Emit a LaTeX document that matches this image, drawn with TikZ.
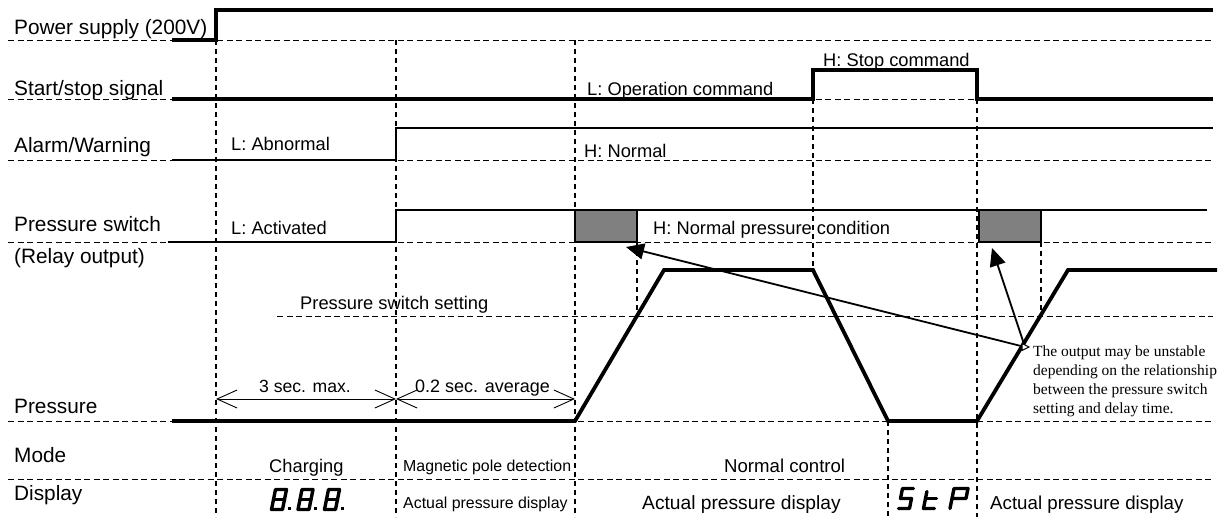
\documentclass[tikz,border=0pt]{standalone}
\usepackage{fontspec}
\setmainfont{Liberation Sans}
\newfontfamily\tnrfont{Liberation Serif}
\usetikzlibrary{arrows.meta,calc}
\newcommand\fsz[1]{\fontsize{#1}{#1}\selectfont}
\definecolor{boxgray}{RGB}{128,128,128}
\begin{document}
\begin{tikzpicture}[x=1pt,y=-1pt,
  lbl/.style={anchor=base west,inner sep=0,font=\fsz{20.8}},
  stl/.style={anchor=base west,inner sep=0,font=\fsz{18.3}},
  sml/.style={anchor=base west,inner sep=0,font=\fsz{15.9}},
  hd/.style={line width=1pt,dash pattern=on 6pt off 3.5pt},
  vd/.style={line width=2.2pt,dash pattern=on 5pt off 4pt},
  sig/.style={line width=3.8pt},
  sigm/.style={line width=2.4pt},
  prs/.style={line width=3.8pt,line join=miter},
  seg/.style={line width=3.4pt,line join=round,line cap=round},
  dim/.style={line width=0.9pt,{Straight Barb[length=20pt,width=18pt]}-{Straight Barb[length=20pt,width=18pt]}},
  ann/.style={line width=1.8pt,-{Triangle[length=18pt,width=16pt]}},
  grey/.style={draw=black,line width=1.2pt,fill=boxgray}
]
\useasboundingbox (0,0) rectangle (1232,517);

% horizontal dashed baselines
\foreach \yy in {40,99,160,242,421,479} \draw[hd] (8,\yy) -- (1213,\yy);
\draw[hd] (277,316) -- (1213,316);

% vertical dashed lines
\draw[vd] (216,40) -- (216,517);
\draw[vd] (396,40) -- (396,517);
\draw[vd] (575,40) -- (575,517);
\draw[vd] (813,99) -- (813,270);
\draw[vd] (977,99) -- (977,517);
\draw[vd] (888,421) -- (888,517);
\draw[vd] (637,242) -- (637,316);
\draw[vd] (1041,242) -- (1041,316);

% signals
\draw[sig] (172,40) -- (216,40) -- (216,10) -- (1213,10);
\draw[sig] (172,99) -- (813,99) -- (813,70) -- (977,70) -- (977,99) -- (1213,99);
\draw[sigm] (172,160) -- (396,160) -- (396,128) -- (1213,128);
\draw[sigm] (168,242) -- (396,242) -- (396,210) -- (1207,210);
\draw[grey] (575,210) rectangle (637,242);
\draw[grey] (979,210) rectangle (1041,242);
\draw[prs] (172,421) -- (575,421) -- (664,270) -- (813,270) -- (888,421) -- (977,421) -- (1068,270) -- (1217,270);

% dimension arrows
\coordinate (d1) at (216,399);
\coordinate (d2) at (396,399);
\coordinate (d3) at (575,399);
\draw[dim] (d1) -- (d2);
\draw[dim] (d2) -- (d3);

% annotation arrows
\coordinate (src) at (1025,347);
\coordinate (tipA) at (626,247);
\coordinate (tipB) at (992,248);
\draw[ann] (src) -- (tipA);
\draw[ann] (src) -- (tipB);
\draw[line width=1pt,fill=white] (1022,343.5) -- (1029,347) -- (1022,350.5) -- cycle;

% left labels
\node[lbl] (lpow) at (14,34) {Power supply (200V)};
\node[lbl] (lss) at (14,95) {Start/stop signal};
\node[lbl] (lal) at (14,152) {Alarm/Warning};
\node[lbl] (lps) at (14,231) {Pressure switch};
\node[lbl] (lro) at (14,263) {(Relay output)};
\node[lbl] (lpr) at (14,413) {Pressure};
\node[lbl] (lmo) at (14,462) {Mode};
\node[lbl] (ldi) at (14,500) {Display};

% state labels
\node[stl] (sab) at (231,150) {L: Abnormal};
\node[stl] (sac) at (231,234) {L: Activated};
\node[stl] (shn) at (584,157) {H: Normal};
\node[stl] (sop) at (587,95) {L: Operation command};
\node[stl] (sst) at (823,66) {H: Stop command};
\node[stl] (snp) at (653,234) {H: Normal pressure condition};
\node[stl] (sps) at (300,309) {Pressure switch setting};
\node[stl,font=\fsz{17.6}] (t3) at (259,392) {3 sec. max.};
\node[stl,font=\fsz{18}] (t02) at (415,392) {0.2 sec. average};

% mode / display
\node[stl] (mch) at (269,472) {Charging};
\node[sml] (mmp) at (403,471) {Magnetic pole detection};
\node[stl,font=\fsz{18.6}] (mnc) at (724,472) {Normal control};
\node[sml] (dp1) at (403,508) {Actual pressure display};
\node[stl,font=\fsz{19.2}] (dp2) at (642,509) {Actual pressure display};
\node[stl,font=\fsz{18.7}] (dp3) at (990,509) {Actual pressure display};

% annotation text
\node[anchor=north west,inner sep=0,align=left,font={\tnrfont\fontsize{15.5}{19}\selectfont}] (note) at (1033,345.5)
  {The output may be unstable\\depending on the relationship\\between the pressure switch\\setting and delay time.};

% seven segment 8.8.8.
\foreach \xx in {271.5,298,324.5} {
  \begin{scope}[shift={(\xx,509.5)},xslant=0.2]
    \draw[seg] (0,0) -- (11,0) -- (11,-20) -- (0,-20) -- cycle;
    \draw[seg] (0,-10) -- (11,-10);
  \end{scope}
  \fill ($(\xx,509.5)+(16,-2.5)$) rectangle ++(3,3);
}
% StP
\begin{scope}[shift={(898.5,508.5)},xslant=0.2]
  \draw[seg] (11,-20) -- (0,-20) -- (0,-10) -- (11,-10) -- (11,0) -- (0,0);
\end{scope}
\begin{scope}[shift={(923.5,508.5)},xslant=0.2]
  \draw[seg] (0,-17) -- (0,0) -- (11,0);
  \draw[seg] (0,-10) -- (11,-10);
\end{scope}
\begin{scope}[shift={(950,508.5)},xslant=0.2]
  \draw[seg] (0,0) -- (0,-20) -- (14,-20) -- (14,-10) -- (0,-10);
\end{scope}
\end{tikzpicture}
\end{document}
